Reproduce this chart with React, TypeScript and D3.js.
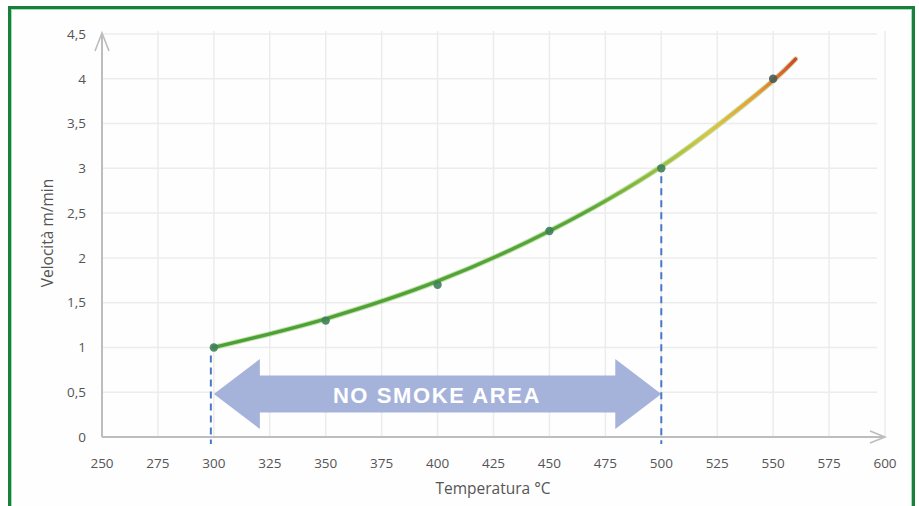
import React from "react";
import * as d3 from "d3";

const temps = [300, 350, 400, 450, 500, 550];
const speeds = [1.0, 1.3, 1.7, 2.3, 3.0, 4.0];
const curveTemps = [300, 350, 400, 450, 500, 550, 560];
const curveSpeeds = [1.0, 1.32, 1.74, 2.3, 3.02, 3.98, 4.22];
const xTicks = [250, 275, 300, 325, 350, 375, 400, 425, 450, 475, 500, 525, 550, 575, 600];
const yTicks = [0, 0.5, 1, 1.5, 2, 2.5, 3, 3.5, 4, 4.5];
const zoneStart = 300;
const zoneEnd = 500;
const zoneLabel = "NO SMOKE AREA";

const W = 919;
const H = 506;
const FONT = "'Open Sans', 'Liberation Sans', sans-serif";

export default function App() {
  const x = d3.scaleLinear().domain([250, 600]).range([102, 885]);
  const y = d3.scaleLinear().domain([0, 4.5]).range([437, 34]);
  const fmt = (v: number) => String(v).replace(".", ",");

  const line = d3
    .line<number>()
    .x((_, i) => x(curveTemps[i]))
    .y((d) => y(d))
    .curve(d3.curveCatmullRom.alpha(0.5));

  const ax0 = x(zoneStart);
  const ax1 = x(zoneEnd);
  const ay = y(0.48);
  const shaftH = 37;
  const headH = 70;
  const headL = 46;
  const arrowPath = [
    [ax0, ay],
    [ax0 + headL, ay - headH / 2],
    [ax0 + headL, ay - shaftH / 2],
    [ax1 - headL, ay - shaftH / 2],
    [ax1 - headL, ay - headH / 2],
    [ax1, ay],
    [ax1 - headL, ay + headH / 2],
    [ax1 - headL, ay + shaftH / 2],
    [ax0 + headL, ay + shaftH / 2],
    [ax0 + headL, ay + headH / 2],
  ];
  const arrowD = "M" + arrowPath.map((p) => p.join(",")).join("L") + "Z";

  const gx0 = x(300);
  const gx1 = x(560);
  const off = (t: number) => (x(t) - gx0) / (gx1 - gx0);

  return (
    <svg
      width={W}
      height={H}
      style={{ position: "absolute", left: 0, top: 0, background: "#fff" }}
      fontFamily={FONT}
    >
      <defs>
        <linearGradient id="lg" gradientUnits="userSpaceOnUse" x1={gx0} y1={0} x2={gx1} y2={0}>
          <stop offset={0} stopColor="#4c9e36" />
          <stop offset={off(465)} stopColor="#58a53a" />
          <stop offset={off(500)} stopColor="#9cc040" />
          <stop offset={off(522)} stopColor="#dcc444" />
          <stop offset={off(543)} stopColor="#eb9a35" />
          <stop offset={1} stopColor="#d9412a" />
        </linearGradient>
      </defs>
      <rect x={9.5} y={7.5} width={904} height={510} fill="#fefefe" stroke="#1b7f3c" strokeWidth={3} />
      <rect x={11.5} y={9.5} width={900} height={506} fill="none" stroke="#9fe0b8" strokeWidth={1} />

      {yTicks.filter((v) => v > 0).map((v) => (
        <line key={"gy" + v} x1={x(250)} x2={877} y1={y(v)} y2={y(v)} stroke="#ececec" strokeWidth={1.5} />
      ))}
      {xTicks.filter((v) => v > 250).map((v) => (
        <line key={"gx" + v} x1={x(v)} x2={x(v)} y1={y(4.5) - 3} y2={y(0)} stroke="#ececec" strokeWidth={1.5} />
      ))}

      <line x1={x(250)} x2={x(250)} y1={y(0)} y2={y(4.5) - 1} stroke="#bdbdbd" strokeWidth={2} />
      <polyline
        points={`${x(250) - 7},${y(4.5) + 17} ${x(250)},${y(4.5) - 1} ${x(250) + 7},${y(4.5) + 17}`}
        fill="none"
        stroke="#bdbdbd"
        strokeWidth={1.6}
      />
      <line x1={x(250)} x2={x(600)} y1={y(0)} y2={y(0)} stroke="#bdbdbd" strokeWidth={2} />
      <polyline
        points={`${x(600) - 15},${y(0) - 6} ${x(600)},${y(0)} ${x(600) - 15},${y(0) + 6}`}
        fill="none"
        stroke="#bdbdbd"
        strokeWidth={1.6}
      />

      {yTicks.map((v) => (
        <text key={"ty" + v} x={86} y={y(v)} dy="0.35em" textAnchor="end" fontSize={13.5} fill="#555">
          {fmt(v)}
        </text>
      ))}
      {xTicks.map((v) => (
        <text key={"tx" + v} x={x(v)} y={463} dy="0.35em" textAnchor="middle" fontSize={13.5} fill="#555">
          {v}
        </text>
      ))}

      <text x={493} y={489} dy="0.35em" textAnchor="middle" fontSize={15.5} fill="#555">
        Temperatura °C
      </text>
      <text
        transform={`translate(48,${233}) rotate(-90)`}
        dy="0.35em"
        textAnchor="middle"
        fontSize={15.5}
        fill="#555"
      >
        Velocità m/min
      </text>

      <path d={arrowD} fill="#a5b3db" />
      <text
        x={437}
        y={ay + 1}
        dy="0.35em"
        textAnchor="middle"
        fontSize={22}
        fontWeight="bold"
        letterSpacing={1.6}
        fill="#ffffff"
        fontFamily="'Liberation Sans', Arial, sans-serif"
      >
        {zoneLabel}
      </text>

      {[zoneStart, zoneEnd].map((t) => {
        const v = speeds[temps.indexOf(t)];
        return (
          <line
            key={"dl" + t}
            x1={x(t) - (t === zoneStart ? 3 : 0)}
            x2={x(t) - (t === zoneStart ? 3 : 0)}
            y1={y(v) + 8}
            y2={444}
            stroke="#4a78c6"
            strokeWidth={2}
            strokeDasharray="7,5"
          />
        );
      })}

      <path d={line(curveSpeeds) || ""} fill="none" stroke="#8fcf6a" strokeWidth={5.5} strokeLinecap="round" opacity={0.55} />
      <path d={line(curveSpeeds) || ""} fill="none" stroke="url(#lg)" strokeWidth={3.4} strokeLinecap="round" />

      {temps.map((t, i) => (
        <circle
          key={"p" + t}
          cx={x(t)}
          cy={y(speeds[i])}
          r={4.2}
          fill={t === 550 ? "#4a5a55" : "#3f7f5a"}
          opacity={0.9}
        />
      ))}
    </svg>
  );
}
